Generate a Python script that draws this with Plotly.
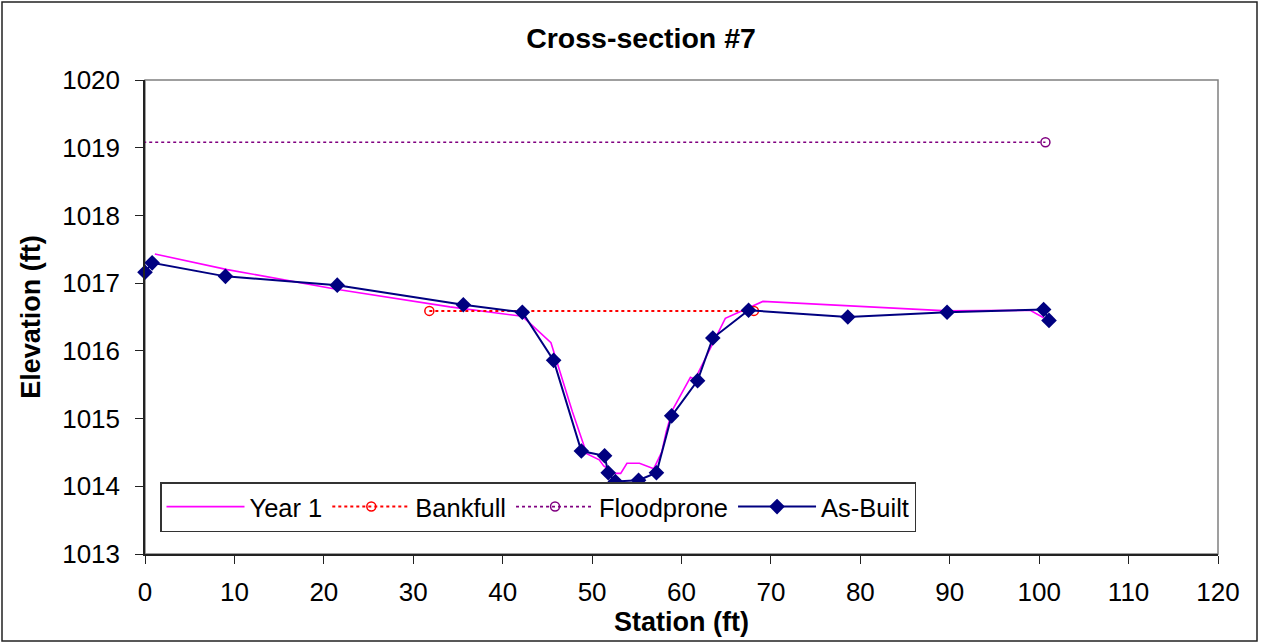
import plotly.graph_objects as go

# As-Built survey
asbuilt_x = [0.0, 0.8, 9.0, 21.5, 35.6, 42.2, 45.7, 48.8, 51.4, 51.8, 52.6, 55.2, 57.2, 58.9, 61.8, 63.5, 67.5, 78.6, 89.7, 100.5, 101.1]
asbuilt_y = [1017.16, 1017.30, 1017.10, 1016.97, 1016.68, 1016.57, 1015.86, 1014.52, 1014.45, 1014.20, 1014.07, 1014.09, 1014.20, 1015.04, 1015.56, 1016.19, 1016.60, 1016.50, 1016.57, 1016.61, 1016.45]

# Year 1 survey
year1_x = [1.1, 9.2, 21.4, 34.1, 42.2, 45.4, 47.8, 49.4, 50.8, 51.3, 52.6, 53.2, 53.9, 55.3, 56.9, 57.8, 58.3, 59.0, 61.0, 61.5, 64.9, 67.4, 69.1, 89.7, 99.0, 100.5]
year1_y = [1017.43, 1017.20, 1016.91, 1016.65, 1016.51, 1016.12, 1015.10, 1014.48, 1014.39, 1014.30, 1014.19, 1014.19, 1014.34, 1014.34, 1014.26, 1014.51, 1014.81, 1015.13, 1015.61, 1015.58, 1016.48, 1016.63, 1016.73, 1016.59, 1016.60, 1016.49]

# Bankfull and floodprone elevations
bankfull_x = [31.8, 68.1]
bankfull_y = [1016.59, 1016.59]
flood_x = [-0.2, 100.7]
flood_y = [1019.08, 1019.08]

title_text = "Cross-section #7"
x_title = "Station (ft)"
y_title = "Elevation (ft)"

FONT = "Arial, Liberation Sans, sans-serif"

fig = go.Figure()
fig.add_trace(go.Scatter(x=year1_x, y=year1_y, mode="lines", name="Year 1",
                         line=dict(color="#FF00FF", width=1.6), cliponaxis=False))
fig.add_trace(go.Scatter(x=bankfull_x, y=bankfull_y, mode="lines+markers", name="Bankfull",
                         line=dict(color="#FF0000", width=2, dash="dot"),
                         marker=dict(symbol="circle-open", size=9, color="#FF0000", line=dict(width=1.5)),
                         cliponaxis=False))
fig.add_trace(go.Scatter(x=flood_x, y=flood_y, mode="lines+markers", name="Floodprone",
                         line=dict(color="#800080", width=1.6, dash="dot"),
                         marker=dict(symbol="circle-open", size=9, color="#800080", line=dict(width=1.5)),
                         cliponaxis=False))
fig.add_trace(go.Scatter(x=asbuilt_x, y=asbuilt_y, mode="lines+markers", name="As-Built",
                         line=dict(color="#000080", width=2),
                         marker=dict(symbol="diamond", size=12, color="#000080"),
                         cliponaxis=False))

# plot-area border (gray top/right)
fig.add_shape(type="rect", xref="paper", yref="paper", x0=0, y0=0, x1=1, y1=1,
              line=dict(color="#808080", width=1.5), layer="below")
# outer chart border
L, R, T, B = 145, 43, 80, 88
PW, PH = 1261 - L - R, 642 - T - B
fig.add_shape(type="rect", xref="paper", yref="paper",
              x0=(2 - L) / PW, x1=(1257 - L) / PW,
              y0=-(641 - T - PH) / PH, y1=1 + (T - 2) / PH,
              line=dict(color="#222222", width=1.5))

fig.update_layout(
    width=1261, height=642,
    margin=dict(l=L, r=R, t=T, b=B),
    paper_bgcolor="white", plot_bgcolor="white",
    font=dict(family=FONT, size=26, color="black"),
    title=dict(text="<b>" + title_text + "</b>", x=641 / 1261, xanchor="center",
               y=1 - 38 / 642, yanchor="middle", font=dict(size=28.5)),
    showlegend=True,
    legend=dict(orientation="h", x=(160 - L) / PW, y=(554 - 482) / PH,
                xanchor="left", yanchor="top",
                bgcolor="white", bordercolor="#333333", borderwidth=1.5,
                font=dict(size=25.5), tracegroupgap=0, itemwidth=78),
    xaxis=dict(range=[0, 120], dtick=10, tick0=0, showgrid=False, zeroline=False,
               showline=True, linecolor="#222222", linewidth=1.5,
               ticks="outside", ticklen=8, tickcolor="#222222",
               ticklabelstandoff=6, tickfont=dict(size=26),
               title=dict(text="<b>" + x_title + "</b>", font=dict(size=27), standoff=0)),
    yaxis=dict(range=[1013, 1020], dtick=1, showgrid=False, zeroline=False,
               showline=True, linecolor="#222222", linewidth=1.5,
               ticks="outside", ticklen=8, tickcolor="#222222",
               tickformat="d", tickfont=dict(size=26), ticklabelstandoff=10,
               title=dict(text="<b>" + y_title + "</b>", font=dict(size=27), standoff=14)),
)

fig.write_html("out.html", config={"displayModeBar": False},
               post_script="document.body.style.margin='0';")
